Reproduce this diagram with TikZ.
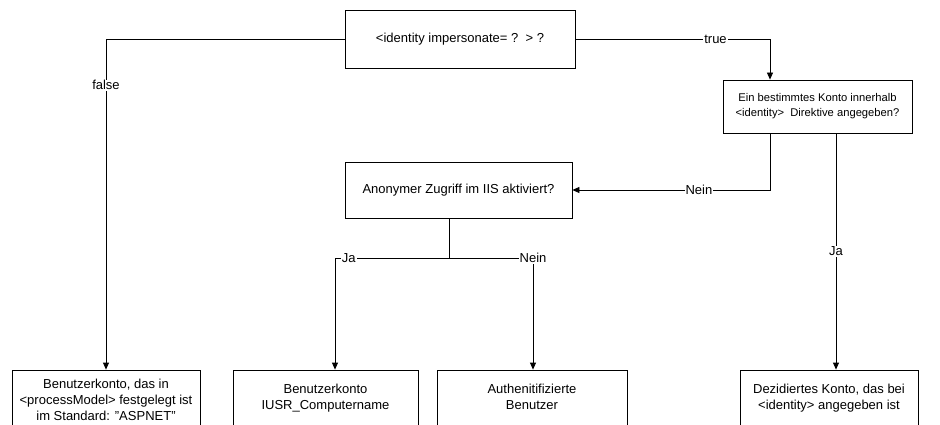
\documentclass[tikz,border=0pt]{standalone}
\usepackage{fontspec}
\setmainfont{Liberation Sans}
\usepackage{tikz}
\usetikzlibrary{arrows.meta, positioning}

\begin{document}
\begin{tikzpicture}[
			x=1pt, y=-1pt,
			font=\fontsize{13}{16}\selectfont,
			line width=0.8pt,
			box/.style={draw, fill=white, align=center, inner sep=2pt},
			arr/.style={-{Triangle[length=7pt, width=6pt]}},
			lab/.style={fill=white, inner sep=1pt, font=\fontsize{13}{14}\selectfont}
			]
			\useasboundingbox (0,0) rectangle (940,425);
			\clip (0,0) rectangle (940,425);

			\node[box, minimum width=230, minimum height=58] (imp) at (460,39) {<identity impersonate= ?\ \ > ?};
			\node[box, minimum width=189, minimum height=53, font=\fontsize{11.2}{15}\selectfont] (konto) at (817.5,106.5) {Ein bestimmtes Konto innerhalb\\<identity>\ \ Direktive angegeben?};
			\node[box, minimum width=227, minimum height=56] (anon) at (458.5,190) {Anonymer Zugriff im IIS aktiviert?};

			\node[box, minimum width=188, minimum height=60] (std) at (106,400) {Benutzerkonto, das in\\<processModel> festgelegt ist\\im Standard: "ASPNET"};
			\node[box, minimum width=185, minimum height=60] (iusr) at (325.5,400) {Benutzerkonto\\IUSR\_Computername\\[-10pt]};
			\node[box, minimum width=190, minimum height=60] (auth) at (532,400) {Authenitifizierte\\Benutzer\\[-10pt]};
			\node[box, minimum width=178, minimum height=60] (ded) at (829,400) {Dezidiertes Konto, das bei\\<identity> angegeben ist\\[-10pt]};

			\coordinate (split) at (449,258);

			\draw[arr] (imp.west) -| (std.north) node[lab, pos=0.57] {false};
			\draw[arr] (imp.east) -| ([xshift=-47.5]konto.north) node[lab, pos=0.36] {true};
			\draw[arr] ([xshift=-47.5]konto.south) |- (anon.east) node[lab, pos=0.68] {Nein};
			\draw[arr] ([xshift=18.5]konto.south) -- ([xshift=7]ded.north) node[lab, pos=0.5] {Ja};

			\draw (anon.south -| split) -- (split);
			\draw[arr] (split) -| ([xshift=9.5]iusr.north) node[lab, pos=0.44] {Ja};
			\draw[arr] (split) -| ([xshift=1]auth.north) node[lab, pos=0.5] {Nein};

		\end{tikzpicture}
\end{document}
